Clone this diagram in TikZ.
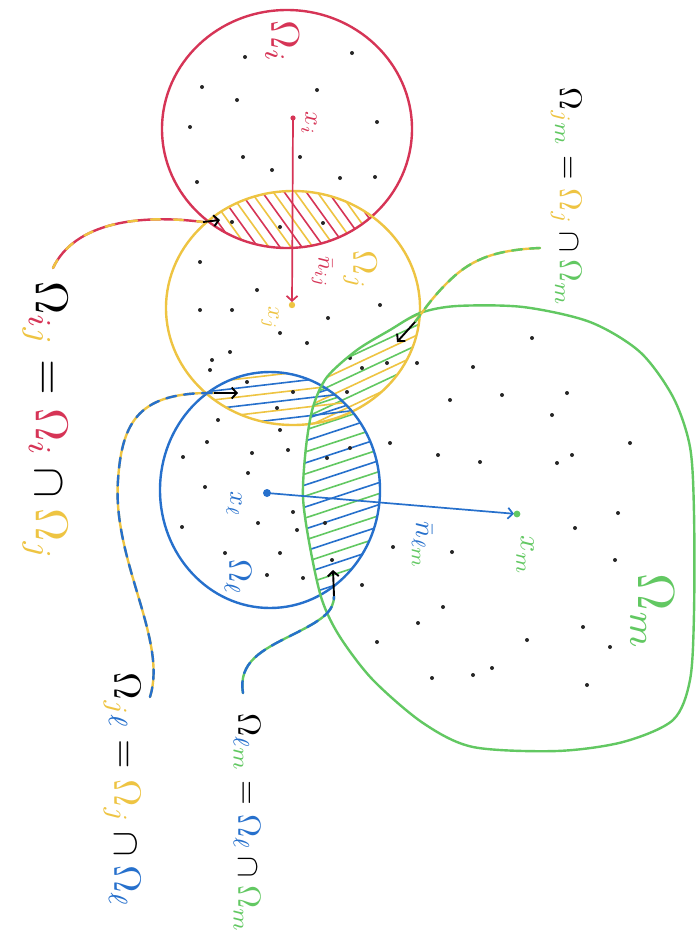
\documentclass[tikz,border=0pt]{standalone}
\usetikzlibrary{arrows.meta}
\definecolor{cred}{RGB}{214,52,86}
\definecolor{cyel}{RGB}{238,196,66}
\definecolor{cblue}{RGB}{38,112,204}
\definecolor{cgreen}{RGB}{98,200,98}
\tikzset{
  outline/.style={line width=2.4pt},
  hatch/.style={line width=1.6pt},
  lbl/.style={rotate=-90, inner sep=0pt},
  speck/.style={fill=black!85, draw=none},
  barb/.style={-{Straight Barb[length=5pt,width=11pt]}, line width=1.9pt, black},
  vec/.style={-{Straight Barb[length=5pt,width=11pt]}, line width=1.7pt},
  leader/.style={line width=2.4pt, line cap=round},
}
\begin{document}
\begin{tikzpicture}[x=1pt,y=-1pt]
\useasboundingbox[fill=white] (0,0) rectangle (696,940);

% ---------- hatching ----------
\begin{scope}
  \clip (287,129) ellipse [x radius=125pt, y radius=119pt];
  \clip (293,308) ellipse [x radius=127pt, y radius=117pt];
  \foreach \k [count=\n] in {100,111,...,400}{
    \ifodd\n \def\hc{cred}\else\def\hc{cyel}\fi
    \draw[hatch,\hc] (\k,150) -- ++(90,125);
  }
\end{scope}
\begin{scope}
  \clip (293,308) ellipse [x radius=127pt, y radius=117pt];
  \clip plot[smooth cycle] coordinates {(420,313) (457,306) (523,307) (590,322) (640,352) (673,397) (690,447) (694,513) (694,613) (690,680) (673,720) (623,742) (557,751) (473,747) (423,723) (373,680) (340,637) (322,600) (310,547) (303,497) (306,447) (313,407) (327,377) (357,350) (390,330)};
  \foreach \k [count=\n] in {320,330,...,480}{
    \ifodd\n \def\hc{cgreen}\else\def\hc{cyel}\fi
    \draw[hatch,\hc] (300,\k) -- ++(160,-75);
  }
\end{scope}
\begin{scope}
  \clip (293,308) ellipse [x radius=127pt, y radius=117pt];
  \clip (270,490) ellipse [x radius=110pt, y radius=118pt];
  \foreach \k [count=\n] in {360,369,...,450}{
    \ifodd\n \def\hc{cblue}\else\def\hc{cyel}\fi
    \draw[hatch,\hc] (170,\k) -- ++(180,-21);
  }
\end{scope}
\begin{scope}
  \clip (270,490) ellipse [x radius=110pt, y radius=118pt];
  \clip plot[smooth cycle] coordinates {(420,313) (457,306) (523,307) (590,322) (640,352) (673,397) (690,447) (694,513) (694,613) (690,680) (673,720) (623,742) (557,751) (473,747) (423,723) (373,680) (340,637) (322,600) (310,547) (303,497) (306,447) (313,407) (327,377) (357,350) (390,330)};
  \foreach \k [count=\n] in {380,391,...,660}{
    \ifodd\n \def\hc{cblue}\else\def\hc{cgreen}\fi
    \draw[hatch,\hc] (290,\k) -- ++(100,-33);
  }
\end{scope}

% ---------- specks ----------
\foreach \x/\y in {245/57,352/53,202/87,317/90,237/100,190/127,377/122,243/157,300/157,272/170,197/182,340/178,375/177,232/222,280/227,323/223,
  200/262,257/290,380/305,200/310,232/310,328/318,280/333,307/343,230/352,212/360,210/370,247/382,293/392,277/408,350/358,362/368,387/363,347/392,
  218/420,280/430,207/442,252/453,288/450,327/458,350/448,183/457,248/473,205/487,293/512,297/530,182/527,258/523,325/523,225/553,280/553,332/560,267/575,303/578,362/585,
  532/338,473/367,417/363,450/400,502/395,567/393,552/415,630/443,390/443,438/455,480/462,557/463,572/455,618/513,575/528,393/547,452/552,615/560,443/607,418/623,583/627,377/642,527/640,610/647,473/675,492/668,432/678,587/685}
  {\fill[speck] (\x,\y) circle (2pt);}

% ---------- outlines ----------
\draw[outline,cred] (287,129) ellipse [x radius=125pt, y radius=119pt];
\draw[outline,cyel] (293,308) ellipse [x radius=127pt, y radius=117pt];
\draw[outline,cblue] (270,490) ellipse [x radius=110pt, y radius=118pt];
\draw[outline,cgreen] plot[smooth cycle] coordinates {(420,313) (457,306) (523,307) (590,322) (640,352) (673,397) (690,447) (694,513) (694,613) (690,680) (673,720) (623,742) (557,751) (473,747) (423,723) (373,680) (340,637) (322,600) (310,547) (303,497) (306,447) (313,407) (327,377) (357,350) (390,330)};

% ---------- centres and vectors ----------
\coordinate (xi) at (293,118);
\coordinate (xj) at (292,305);
\coordinate (xl) at (267,493);
\coordinate (xm) at (517,514);
\draw[vec,cred,shorten >=3pt] (xi) -- (xj);
\draw[vec,cblue,shorten >=3pt] (xl) -- (xm);
\fill[cred] (xi) circle (2.6pt);
\fill[cyel] (xj) circle (3.2pt);
\fill[cblue] (xl) circle (4pt);
\fill[cgreen] (xm) circle (3.4pt);

% ---------- small labels ----------
\node[lbl,cred,scale=4.0]   (Li)  at (282,42)  {$\Omega_i$};
\node[lbl,cred,scale=2.6]   (Lxi) at (309,123) {$x_i$};
\node[lbl,cred,scale=2.4]   (Lnij) at (322,272) {$\bar{n}_{ij}$};
\node[lbl,cyel,scale=3.4]   (Lj)  at (360,270) {$\Omega_j$};
\node[lbl,cyel,scale=2.4]   (Lxj) at (270,318) {$x_j$};
\node[lbl,cblue,scale=2.6]  (Lxl) at (234,504) {$x_\ell$};
\node[lbl,cblue,scale=3.2]  (Ll)  at (238,577) {$\Omega_\ell$};
\node[lbl,cblue,scale=2.8]  (Lnlm) at (422,545) {$\bar{n}_{\ell\textcolor{cgreen}{m}}$};
\node[lbl,cgreen,scale=3.0] (Lxm) at (525,555) {$x_m$};
\node[lbl,cgreen,scale=5.2] (Lm)  at (652,612) {$\Omega_m$};

% ---------- big labels ----------
\node[lbl,scale=4.6] (Tij) at (45,421) {$\Omega_{\textcolor{cred}{i}\textcolor{cyel}{j}} = \textcolor{cred}{\Omega_i} \cap \textcolor{cyel}{\Omega_j}$};
\node[lbl,scale=3.15] (Tjm) at (566,197) {$\Omega_{\textcolor{cyel}{j}\textcolor{cgreen}{m}} = \textcolor{cyel}{\Omega_j} \cap \textcolor{cgreen}{\Omega_m}$};
\node[lbl,scale=3.8] (Tjl) at (122,790) {$\Omega_{\textcolor{cyel}{j}\textcolor{cblue}{\ell}} = \textcolor{cyel}{\Omega_j} \cap \textcolor{cblue}{\Omega_\ell}$};
\node[lbl,scale=3.2] (Tlm) at (247,823) {$\Omega_{\textcolor{cblue}{\ell}\textcolor{cgreen}{m}} = \textcolor{cblue}{\Omega_\ell} \cap \textcolor{cgreen}{\Omega_m}$};

% ---------- leaders ----------
\coordinate (l1s) at (53,268);  \coordinate (l1e) at (203,222); \coordinate (a1) at (220,220);
\coordinate (l2s) at (150,697); \coordinate (l2e) at (214,393); \coordinate (a2) at (238,393);
\coordinate (l3s) at (243,693); \coordinate (l3e) at (334,596); \coordinate (a3) at (333,570);
\coordinate (l4s) at (540,248); \coordinate (l4e) at (415,322); \coordinate (a4) at (397,342);

\draw[leader,cred,postaction={draw=cyel,dash pattern=on 9pt off 14pt}]
  (l1s) .. controls (75,222) and (140,214) .. (l1e);
\draw[barb] (l1e) -- (a1);

\draw[leader,cyel,postaction={draw=cblue,dash pattern=on 10pt off 8pt}]
  (l2s) .. controls (168,640) and (112,560) .. (118,480) .. controls (122,420) and (140,392) .. (l2e);
\draw[barb] (l2e) -- (a2);

\draw[leader,cgreen,postaction={draw=cblue,dash pattern=on 12pt off 8pt}]
  (l3s) .. controls (238,662) and (262,650) .. (292,635) .. controls (322,620) and (334,612) .. (l3e);
\draw[barb] (l3e) -- (a3);

\draw[leader,cyel,postaction={draw=cgreen,dash pattern=on 10pt off 8pt}]
  (l4s) .. controls (490,250) and (468,262) .. (447,283) .. controls (432,298) and (424,310) .. (l4e);
\draw[barb] (l4e) -- (a4);
\end{tikzpicture}
\end{document}
